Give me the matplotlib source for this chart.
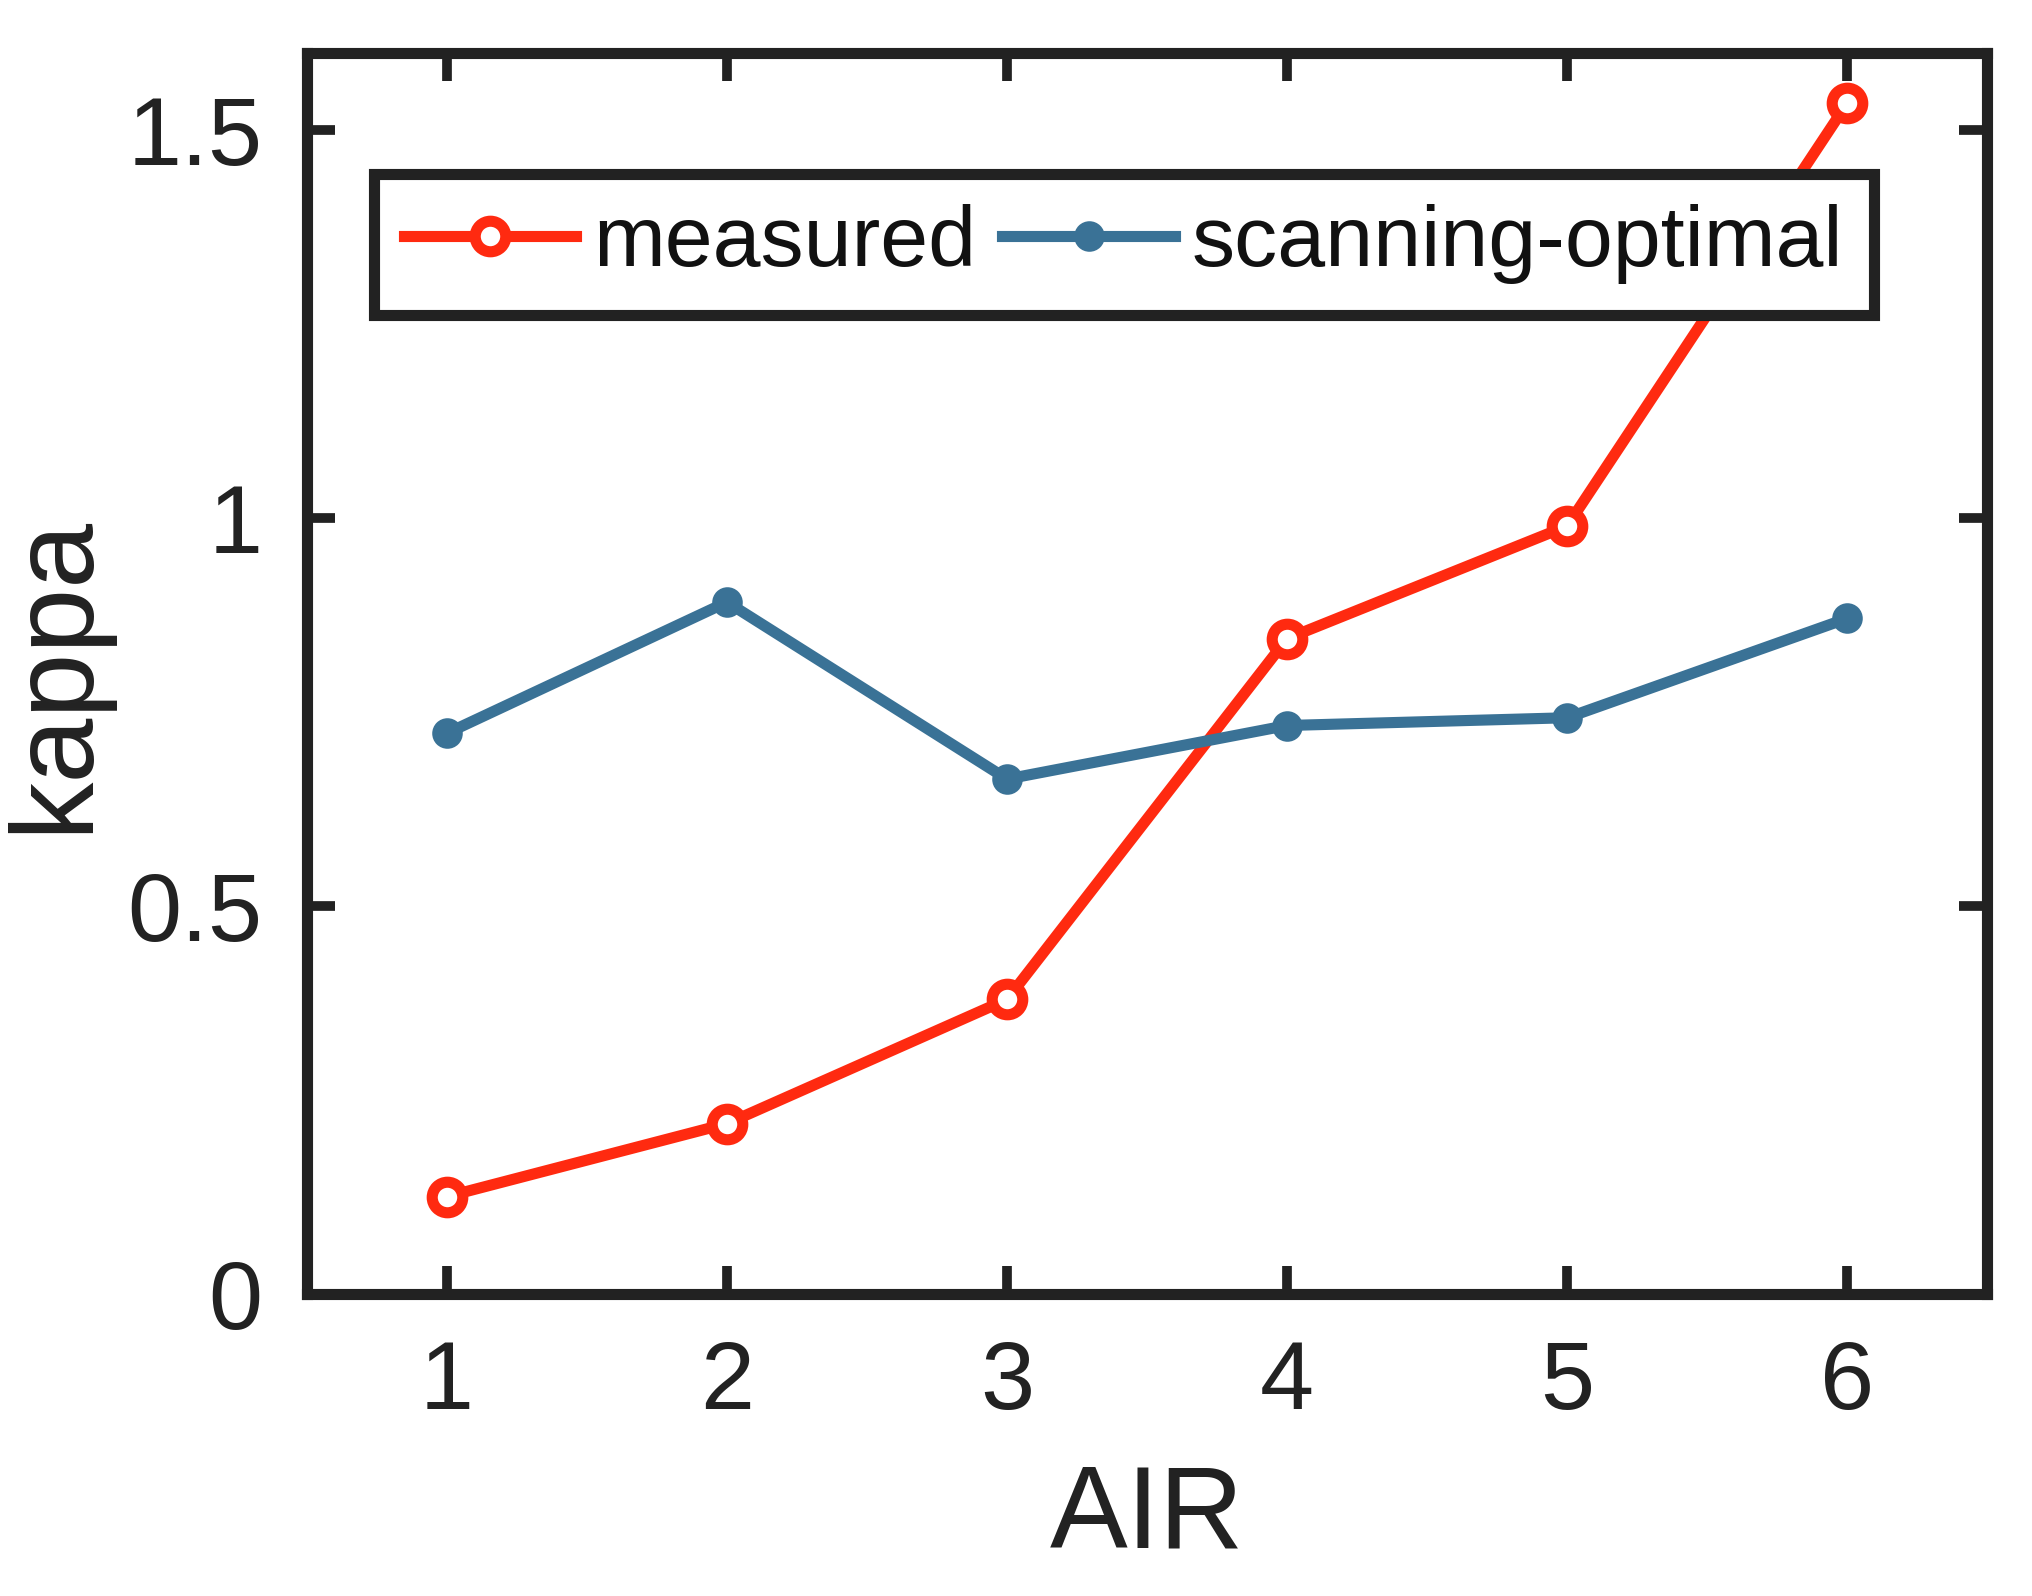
import matplotlib
matplotlib.use("Agg")
import matplotlib.pyplot as plt

air = [1, 2, 3, 4, 5, 6]
measured = [0.126, 0.22, 0.38, 0.845, 0.99, 1.535]
scanning = [0.723, 0.892, 0.664, 0.733, 0.743, 0.871]

plt.rcParams['font.family'] = ['Liberation Sans', 'DejaVu Sans']
fig = plt.figure(figsize=(10.16, 7.98), dpi=200)
ax = fig.add_axes([0.151, 0.189, 0.827, 0.778])
ax.plot(air, measured, '-o', color='#ff2a10', lw=4, ms=11, mfc='white', mew=4, label='measured')
ax.plot(air, scanning, '-o', color='#3a7296', lw=4, ms=10, mfc='#3a7296', label='scanning-optimal')
ax.set_xlim(0.5, 6.5)
ax.set_ylim(0, 1.6)
ax.set_xticks(air)
ax.set_yticks([0, 0.5, 1, 1.5])
ax.set_yticklabels(['0', '0.5', '1', '1.5'])
ax.tick_params(direction='in', length=10, width=3.5, labelsize=35, color='#222222',
               labelcolor='#222222', top=True, right=True, pad=16)
for s in ax.spines.values():
    s.set_linewidth(4)
    s.set_color('#222222')
ax.set_xlabel('AIR', fontsize=42, color='#222222', labelpad=12)
ax.set_ylabel('kappa', fontsize=42, color='#222222', labelpad=6)
leg = ax.legend(loc='upper left', bbox_to_anchor=(0.04, 0.902), ncol=2, fontsize=31,
                frameon=True, fancybox=False, edgecolor='#222222', framealpha=1,
                handlelength=2.0, handletextpad=0.2, columnspacing=0.3,
                borderpad=0.35, borderaxespad=0)
leg.get_frame().set_linewidth(4)
for t in leg.get_texts():
    t.set_color('#111111')
fig.savefig('out.png', dpi=200)
